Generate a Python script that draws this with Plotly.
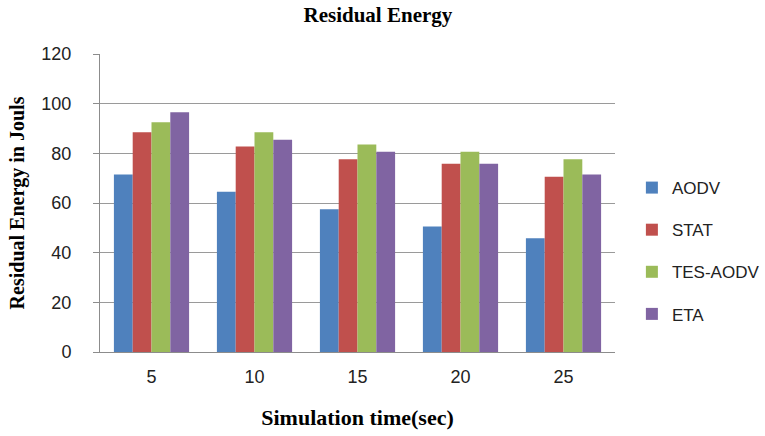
import plotly.graph_objects as go

categories = ["5", "10", "15", "20", "25"]
aodv = [71.5, 64.5, 57.5, 50.5, 45.8]
stat = [88.5, 82.8, 77.6, 75.8, 70.6]
tes_aodv = [92.5, 88.5, 83.6, 80.6, 77.6]
eta = [96.5, 85.5, 80.6, 75.8, 71.5]

series = [
    ("AODV", aodv, "#4F81BD"),
    ("STAT", stat, "#C0504D"),
    ("TES-AODV", tes_aodv, "#9BBB59"),
    ("ETA", eta, "#8064A2"),
]

fig = go.Figure()
for i, (name, vals, color) in enumerate(series):
    fig.add_trace(go.Bar(x=categories, y=vals, name=name, marker_color=color,
                         marker_line_width=0, legendgroup=name))

serif = "Liberation Serif"
sans = "Liberation Sans"

fig.update_layout(
    width=765, height=436,
    margin=dict(l=100, r=150, t=54, b=84, autoexpand=False),
    paper_bgcolor="white", plot_bgcolor="white",
    barmode="group", bargap=0.27, bargroupgap=0,
    title=dict(text="<b>Residual Energy</b>", x=0.494, xanchor="center",
               y=0.966, yanchor="middle",
               font=dict(family=serif, size=21, color="black")),
    xaxis=dict(
        title=dict(text="<b>Simulation time(sec)</b>", standoff=24,
                   font=dict(family=serif, size=22, color="black")),
        tickfont=dict(family=sans, size=18, color="#222"),
        ticklabelstandoff=8, automargin=False,
        showline=True, linecolor="#8c8c8c", linewidth=1,
        ticks="", showgrid=False,
    ),
    yaxis=dict(
        title=dict(text="<b>Residual Energy in Jouls</b>", standoff=11,
                   font=dict(family=serif, size=20, color="black")),
        range=[0, 120], dtick=20,
        tickfont=dict(family=sans, size=18, color="#222"),
        ticklabelstandoff=18, automargin=False,
        showline=True, linecolor="#8c8c8c", linewidth=1,
        ticks="outside", ticklen=6, tickcolor="#8c8c8c",
        showgrid=True, gridcolor="#9a9a9a", gridwidth=1,
        zeroline=False,
    ),
    legend=dict(
        xref="container", yref="container",
        x=0.826, xanchor="left", y=0.61, yanchor="top",
        font=dict(family=sans, size=17, color="#222"),
        tracegroupgap=17, traceorder="grouped",
        bgcolor="rgba(0,0,0,0)",
    ),
    showlegend=True,
)

fig.write_html("out.html")
